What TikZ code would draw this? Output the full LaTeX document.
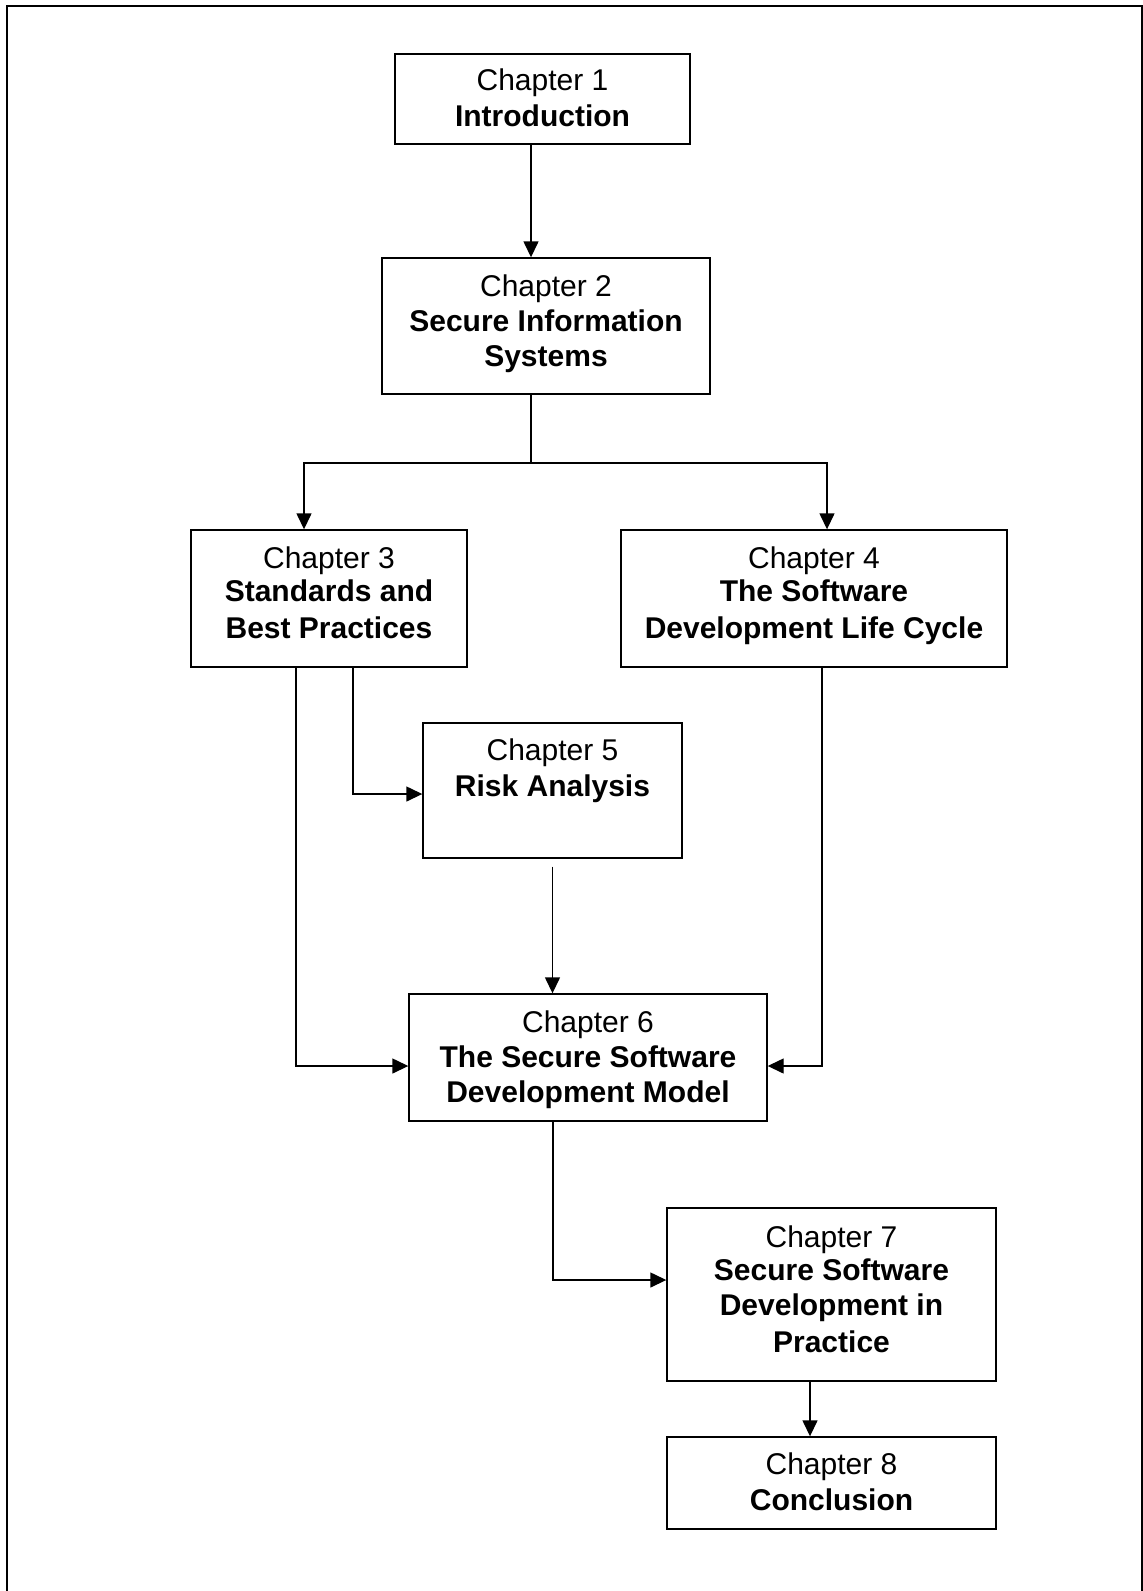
\documentclass[tikz,border=0pt]{standalone}
\usepackage{fontspec}
\setmainfont{Liberation Sans}
\usetikzlibrary{arrows.meta}

\begin{document}
\begin{tikzpicture}[x=1pt,y=-1pt,
  chapbox/.style={draw, line width=1.4pt, inner sep=0pt, minimum width=#1},
  ttl/.style={anchor=base, inner sep=0pt, font=\fontsize{30}{36}\selectfont},
  bttl/.style={ttl, font=\fontsize{30}{36}\selectfont\bfseries},
  arr/.style={line width=1.4pt, -{Triangle[length=16pt,width=15pt]}},
  link/.style={line width=1.4pt}]

\useasboundingbox (0,0) rectangle (1143,1591);

% page frame (open at the bottom)
\draw[line width=2pt] (7,1591) -- (7,6) -- (1142,6) -- (1142,1591);

% chapter boxes
\node[chapbox=295pt, minimum height=90pt]  (b1) at (542.5,99) {};
\node[chapbox=328pt, minimum height=136pt] (b2) at (546,326) {};
\node[chapbox=276pt, minimum height=137pt] (b3) at (329,598.5) {};
\node[chapbox=386pt, minimum height=137pt] (b4) at (814,598.5) {};
\node[chapbox=259pt, minimum height=135pt] (b5) at (552.5,790.5) {};
\node[chapbox=358pt, minimum height=127pt] (b6) at (588,1057.5) {};
\node[chapbox=329pt, minimum height=173pt] (b7) at (831.5,1294.5) {};
\node[chapbox=329pt, minimum height=92pt]  (b8) at (831.5,1483) {};

% titles
\node[ttl]  (t1a) at (542.5,90)  {Chapter 1};
\node[bttl] (t1b) at (542.5,126) {Introduction};

\node[ttl]  (t2a) at (546,296) {Chapter 2};
\node[bttl] (t2b) at (546,331) {Secure Information};
\node[bttl] (t2c) at (546,366) {Systems};

\node[ttl]  (t3a) at (329,568) {Chapter 3};
\node[bttl] (t3b) at (329,601) {Standards and};
\node[bttl] (t3c) at (329,638) {Best Practices};

\node[ttl]  (t4a) at (814,568) {Chapter 4};
\node[bttl] (t4b) at (814,601) {The Software};
\node[bttl] (t4c) at (814,638) {Development Life Cycle};

\node[ttl]  (t5a) at (552.5,760) {Chapter 5};
\node[bttl] (t5b) at (552.5,796) {Risk Analysis};

\node[ttl]  (t6a) at (588,1032) {Chapter 6};
\node[bttl] (t6b) at (588,1067) {The Secure Software};
\node[bttl] (t6c) at (588,1102) {Development Model};

\node[ttl]  (t7a) at (831.5,1247) {Chapter 7};
\node[bttl] (t7b) at (831.5,1280) {Secure Software};
\node[bttl] (t7c) at (831.5,1315) {Development in};
\node[bttl] (t7d) at (831.5,1352) {Practice};

\node[ttl]  (t8a) at (831.5,1474) {Chapter 8};
\node[bttl] (t8b) at (831.5,1510) {Conclusion};

% connectors
\coordinate (split) at (531,463);

\draw[arr] ([xshift=-11.5pt]b1.south) -- ([xshift=-11.5pt]b1.south |- b2.north);
\draw[link] (b2.south -| split) -- (split);
\draw[arr] (split) -| ([xshift=-25pt]b3.north);
\draw[arr] (split) -| ([xshift=13pt]b4.north);

\draw[arr] ([xshift=24pt]b3.south) |- ([yshift=-3.5pt]b5.west);
\draw[arr] ([xshift=-33pt]b3.south) |- ([yshift=-8.5pt]b6.west);
\draw[arr, shorten <=8pt] (b5.south) -- (b5.south |- b6.north);
\draw[arr] ([xshift=8pt]b4.south) |- ([yshift=-8.5pt]b6.east);
\draw[arr] ([xshift=-35pt]b6.south) |- ([yshift=14.5pt]b7.west);
\draw[arr] ([xshift=-21.5pt]b7.south) -- ([xshift=-21.5pt]b7.south |- b8.north);

\end{tikzpicture}
\end{document}
